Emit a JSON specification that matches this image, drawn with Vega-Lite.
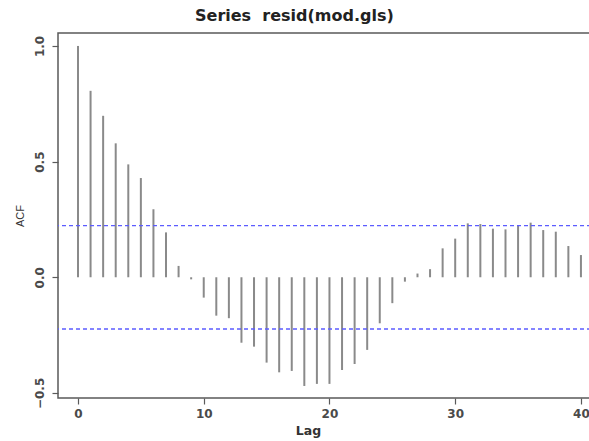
{
  "$schema": "https://vega.github.io/schema/vega-lite/v6.json",
  "autosize": "none",
  "width": 533,
  "height": 365,
  "padding": {"left": 58, "top": 33, "right": 0, "bottom": 43},
  "background": "white",
  "config": {
    "font": "Liberation Sans",
    "view": {"stroke": "#5a5a5a", "strokeWidth": 1.5},
    "axis": {"grid": false, "domain": false, "tickColor": "#5a5a5a", "tickSize": 6, "tickWidth": 1.2, "labelColor": "#4a4a4a", "labelFontSize": 12, "labelFontWeight": "bold", "labelFont": "DejaVu Sans", "titleFont": "Liberation Sans", "titleColor": "#333333"}
  },
  "title": {"text": "Series\u00a0 resid(mod.gls)", "fontSize": 16, "fontWeight": "bold", "color": "#222222", "anchor": "start", "frame": "group", "dx": 137, "offset": 9, "font": "DejaVu Sans"},
  "layer": [
    {
      "data": {"values": [
        {"lag": 0, "acf": 1.0}, {"lag": 1, "acf": 0.806}, {"lag": 2, "acf": 0.698}, {"lag": 3, "acf": 0.579},
        {"lag": 4, "acf": 0.488}, {"lag": 5, "acf": 0.429}, {"lag": 6, "acf": 0.294}, {"lag": 7, "acf": 0.194},
        {"lag": 8, "acf": 0.049}, {"lag": 9, "acf": -0.009}, {"lag": 10, "acf": -0.088}, {"lag": 11, "acf": -0.166},
        {"lag": 12, "acf": -0.177}, {"lag": 13, "acf": -0.283}, {"lag": 14, "acf": -0.300}, {"lag": 15, "acf": -0.369},
        {"lag": 16, "acf": -0.411}, {"lag": 17, "acf": -0.405}, {"lag": 18, "acf": -0.470}, {"lag": 19, "acf": -0.461},
        {"lag": 20, "acf": -0.461}, {"lag": 21, "acf": -0.401}, {"lag": 22, "acf": -0.375}, {"lag": 23, "acf": -0.314},
        {"lag": 24, "acf": -0.199}, {"lag": 25, "acf": -0.112}, {"lag": 26, "acf": -0.019}, {"lag": 27, "acf": 0.016},
        {"lag": 28, "acf": 0.035}, {"lag": 29, "acf": 0.125}, {"lag": 30, "acf": 0.167}, {"lag": 31, "acf": 0.233},
        {"lag": 32, "acf": 0.230}, {"lag": 33, "acf": 0.210}, {"lag": 34, "acf": 0.207}, {"lag": 35, "acf": 0.222},
        {"lag": 36, "acf": 0.236}, {"lag": 37, "acf": 0.204}, {"lag": 38, "acf": 0.197}, {"lag": 39, "acf": 0.135},
        {"lag": 40, "acf": 0.096}
      ]},
      "mark": {"type": "rule", "color": "#8a8a8a", "strokeWidth": 2},
      "encoding": {
        "x": {"field": "lag", "type": "quantitative", "scale": {"domain": [-1.59, 40.8], "nice": false, "zero": false},
              "axis": {"values": [0, 10, 20, 30, 40], "title": "Lag", "titleFont": "DejaVu Sans", "titleFontSize": 12.5, "titleFontWeight": "bold", "titleX": 250, "titlePadding": 5, "labelPadding": 4}},
        "y": {"field": "acf", "type": "quantitative", "scale": {"domain": [-0.522, 1.056], "nice": false, "zero": false},
              "axis": {"values": [-0.5, 0, 0.5, 1.0], "format": ".1f", "labelAngle": 270, "labelAlign": "center", "labelBaseline": "bottom", "labelPadding": 6, "title": "ACF", "titleFontSize": 11, "titleFontWeight": "normal", "titlePadding": 8}},
        "y2": {"datum": 0}
      }
    },
    {
      "mark": {"type": "rule", "color": "#6a6a6a", "strokeWidth": 1.3},
      "encoding": {"y": {"datum": 0}}
    },
    {
      "data": {"values": [{"ci": 0.2236}, {"ci": -0.2236}]},
      "mark": {"type": "rule", "color": "#5c5cff", "strokeWidth": 1.3, "strokeDash": [4, 3]},
      "encoding": {"y": {"field": "ci", "type": "quantitative"}}
    }
  ]
}
